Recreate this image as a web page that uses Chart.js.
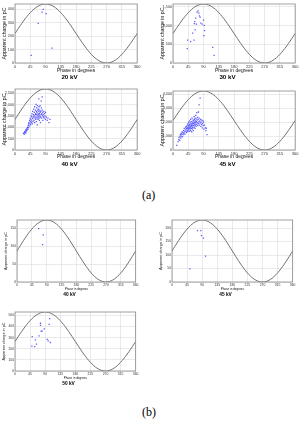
<!DOCTYPE html>
<html><head><meta charset="utf-8">
<script src="https://cdn.jsdelivr.net/npm/chart.js@4/dist/chart.umd.min.js"></script>
<style>
html,body{margin:0;padding:0;background:#fff;width:302px;height:423px;overflow:hidden;position:relative}
.p{position:absolute}
.lab{position:absolute;font-family:"Liberation Serif","Times New Roman",serif;font-size:12px;color:#000;line-height:12px}
</style></head><body>
<div class="lab" style="left:142px;top:189px;">(a)</div>
<div class="lab" style="left:142px;top:406px;">(b)</div>
<script>
// ---------- data ----------
const phaseTicks = [0, 45, 90, 135, 180, 225, 270, 315, 360];
const panelTitles = ['20 kV', '30 kV', '40 kV', '45 kV', '40 kV', '45 kV', '50 kV'];
const sinePeaks = [440, 1580, 2680, 4250, 173, 230, 530];

const yTicks20a = [0, 100, 200, 300, 400];
const yTicks30a = [0, 500, 1000, 1500];
const yTicks40a = [0, 500, 1000, 1500, 2000, 2500];
const yTicks45a = [0, 1000, 2000, 3000, 4000];
const yTicks40b = [0, 50, 100, 150];
const yTicks45b = [0, 50, 100, 150, 200];
const yTicks50b = [0, 100, 200, 300, 400, 500];

const phase20a = [48, 68.5, 80, 83, 92, 109];
const charge20a = [57, 296, 380, 400, 368, 111];

const phase30a = [42, 43, 52, 58, 62, 63, 64, 65, 67, 69, 71, 74, 76, 78, 80, 82, 86, 90, 92, 93, 91, 117, 121];
const charge30a = [383, 614, 571, 801, 614, 1057, 1108, 887, 1202, 1040, 1364, 1398, 1338, 1262, 1228, 1066, 1040, 1151, 1006, 870, 733, 418, 205];

const phase40a = [25, 27, 28, 29, 30, 31, 32, 33, 34, 35, 36, 37, 38, 39, 40, 40,
  41, 42, 43, 44, 45, 45, 46, 47, 48, 48, 49, 50, 50, 51, 52, 52, 53, 54, 55, 55,
  56, 57, 57, 58, 58, 59, 60, 60, 61, 61, 62, 62, 63, 63, 64, 64, 65, 65, 66, 66, 67, 67, 68, 68, 69, 69, 70, 70, 70,
  71, 71, 72, 72, 73, 73, 74, 74, 75, 75, 76, 77, 77, 78, 78, 79, 80, 80, 81, 82, 82, 83, 84, 85,
  86, 87, 88, 90, 90, 92, 95, 97, 100, 103];
const charge40a = [720, 760, 700, 810, 780, 860, 740, 900, 830, 950, 880, 1000, 920, 1080, 1150, 980,
  1200, 1050, 1300, 1150, 1250, 1400, 1100, 1350, 1500, 1200, 1280, 1450, 1600, 1150, 1380, 1700, 1250, 1550, 1450, 1800,
  1300, 1650, 1500, 1900, 1200, 1400, 1750, 1550, 1350, 1600, 2000, 1450, 1700, 1250, 1850, 1550, 1400, 1650, 1950, 1100, 1500, 1750, 1600, 1350, 1800, 1450, 1550, 2250, 1700,
  1400, 1900, 1600, 1300, 1750, 1500, 1650, 1950, 1450, 1200, 1700, 2150, 1550, 1850, 1400, 1600, 2330, 1750, 1500, 1300, 1650, 1550, 1450, 1700,
  1400, 1600, 1500, 1350, 1650, 1450, 1300, 1400, 1200, 1350];

const phase45a = [11, 15, 17, 18, 20, 21, 22, 23, 24, 25, 26, 27, 28, 29, 30, 31, 32, 33, 34, 35, 36, 37, 38, 39, 40, 40,
  41, 42, 42, 43, 44, 44, 45, 45, 46, 46, 47, 48, 48, 49, 49, 50, 50, 51, 51, 52, 52, 53, 53, 54, 54, 55, 55, 56, 56, 57, 57, 58, 58, 59, 59, 60, 60,
  61, 61, 62, 62, 63, 63, 64, 64, 65, 65, 66, 66, 67, 67, 68, 68, 69, 70, 70, 71, 72, 72, 73, 74, 75, 75, 76, 77, 77, 78, 79, 80, 80,
  81, 82, 83, 84, 85, 86, 87, 88, 89, 90, 91, 93, 95, 97, 98, 100];
const charge45a = [330, 600, 750, 900, 700, 1000, 1100, 850, 1200, 1000, 1150, 1300, 950, 1250, 1100, 1400, 1200, 1550, 1300, 1150, 1450, 1650, 1350, 1550, 1250, 1700,
  1450, 1600, 1800, 1350, 1550, 1900, 1650, 1450, 1750, 2000, 1550, 1350, 1850, 1650, 2100, 1500, 1750, 1950, 1600, 1400, 2200, 1700, 1850, 1550, 2050, 1750, 1300, 1900, 2300, 1650, 1500, 2000, 1800, 2150, 1600, 1900, 1400,
  2100, 1750, 2400, 1950, 1650, 2200, 1850, 2000, 2300, 1550, 2100, 1800, 2500, 1950, 1700, 2250, 2050, 2700, 1850, 2150, 1950, 2350, 1750, 2200, 2737, 1900, 2050, 3250, 2300, 1800, 2100, 3740, 1950,
  2200, 1700, 2000, 1850, 2150, 1600, 1900, 2100, 1750, 2000, 1500, 1800, 1600, 1400, 1567, 1100];

const phase40b = [65.6, 79.6, 77.6];
const charge40b = [149, 131.5, 104];

const phase45b = [53.8, 76, 86, 88, 94, 100];
const charge45b = [49, 191, 191, 172, 163, 96];

const phase50b = [51.3, 50.3, 59, 61, 64, 72, 76, 76, 78, 81, 87, 96, 99, 101.6, 103.5, 105.5];
const charge50b = [309, 224, 218, 280, 241, 315, 429, 409, 359, 359, 379, 285, 271, 418, 470, 256];

// reference sinusoid of the applied voltage (phase samples every 5 degrees)
const sinePhase = [];
for (let d = 0; d <= 360; d += 5) sinePhase.push(d);

// ---------- layout ----------
const styleA = {xtick: 4, ytick: 3.7, xt: 4.9, yt: 5.2, tt: 6.2, xH: 11, tPad: 0};
const styleA2 = {xtick: 4, ytick: 3.7, xt: 4.9, yt: 5.2, tt: 6.2, xH: 9.5, tPad: 1.5};
const styleB = {xtick: 3.4, ytick: 3.3, xt: 3, yt: 3.8, tt: 4.8, xH: 8.5, tPad: 1};
const panels = [
  {ph: phase20a, q: charge20a, yt: yTicks20a, g: {l: 15, t: 3, r: 139, b: 63}, s: styleA},
  {ph: phase30a, q: charge30a, yt: yTicks30a, g: {l: 173, t: 3, r: 297, b: 63}, s: styleA},
  {ph: phase40a, q: charge40a, yt: yTicks40a, g: {l: 15, t: 88, r: 139, b: 150}, s: styleA2},
  {ph: phase45a, q: charge45a, yt: yTicks45a, g: {l: 173, t: 90, r: 297, b: 150}, s: styleA2},
  {ph: phase40b, q: charge40b, yt: yTicks40b, g: {l: 17, t: 219, r: 137, b: 282}, s: styleB},
  {ph: phase45b, q: charge45b, yt: yTicks45b, g: {l: 172, t: 219, r: 294, b: 282}, s: styleB},
  {ph: phase50b, q: charge50b, yt: yTicks50b, g: {l: 15, t: 311, r: 137, b: 371}, s: styleB}
];

const boxPlugin = {
  id: 'box',
  afterDraw(c) {
    const a = c.chartArea, x = c.ctx;
    x.save(); x.strokeStyle = '#8a8a8a'; x.lineWidth = 0.8;
    x.strokeRect(a.left, a.top, a.right - a.left, a.bottom - a.top);
    x.restore();
  }
};

const FONT = '"Liberation Sans", Arial, sans-serif';

panels.forEach((p, i) => {
  const g = p.g, s = p.s;
  const yW = 15, padTop = 3, padRight = 3;
  const plotH = g.b - g.t;
  const titleH = s.tt * 1.2 + s.tPad;
  const left = g.l - yW, top = g.t - padTop;
  const w = Math.ceil(g.r - left + padRight);
  const h = Math.ceil(padTop + plotH + s.xH + titleH + 1);
  const div = document.createElement('div');
  div.className = 'p';
  div.style.left = left + 'px'; div.style.top = top + 'px';
  div.style.width = w + 'px'; div.style.height = h + 'px';
  const cv = document.createElement('canvas');
  cv.width = w; cv.height = h;
  div.appendChild(cv);
  document.body.appendChild(div);

  const peak = sinePeaks[i];
  const sineData = sinePhase.map(d => ({x: d, y: peak / 2 * (1 + Math.sin(d * Math.PI / 180))}));
  const pts = p.ph.map((ph, k) => ({x: ph, y: p.q[k]}));

  new Chart(cv, {
    type: 'scatter',
    data: {
      datasets: [
        {data: sineData, showLine: true, borderColor: '#707070', borderWidth: 1, pointRadius: 0, tension: 0.3, order: 2},
        {data: pts, showLine: false, pointStyle: 'rect', pointRadius: 0.9, backgroundColor: 'rgba(50,50,255,0.8)', borderColor: 'rgba(50,50,255,0.8)', borderWidth: 0, order: 1}
      ]
    },
    options: {
      responsive: false, animation: false, devicePixelRatio: 1,
      layout: {padding: {top: padTop, right: w - (g.r - left), left: 0, bottom: h - padTop - plotH - s.xH - titleH}},
      plugins: {
        legend: {display: false}, tooltip: {enabled: false},
        title: {display: true, position: 'bottom', text: panelTitles[i], color: '#000',
          font: {family: FONT, size: s.tt}, padding: {top: s.tPad, bottom: 0}}
      },
      scales: {
        x: {
          type: 'linear', min: 0, max: 360,
          afterBuildTicks: sc => { sc.ticks = phaseTicks.map(v => ({value: v})); },
          afterFit: sc => { sc.height = s.xH; },
          ticks: {autoSkip: false, maxRotation: 0, padding: 1.5, color: '#333', font: {family: FONT, size: s.xtick}},
          grid: {color: '#dcdcdc', lineWidth: 0.6, drawTicks: false},
          border: {display: false},
          title: {display: true, text: 'Phase in degrees', color: '#111', font: {family: FONT, size: s.xt}, padding: {top: 0, bottom: 0}}
        },
        y: {
          type: 'linear', min: 0, max: peak,
          afterBuildTicks: sc => { sc.ticks = p.yt.map(v => ({value: v})); },
          afterFit: sc => { sc.width = yW; },
          ticks: {autoSkip: false, padding: 1, color: '#333', font: {family: FONT, size: s.ytick}},
          grid: {color: '#dcdcdc', lineWidth: 0.6, drawTicks: false},
          border: {display: false},
          title: {display: true, text: 'Apparent charge in pC', color: '#111', font: {family: FONT, size: s.yt}, padding: {top: 1.5, bottom: 0}}
        }
      }
    },
    plugins: [boxPlugin]
  });
});
</script>
</body></html>
